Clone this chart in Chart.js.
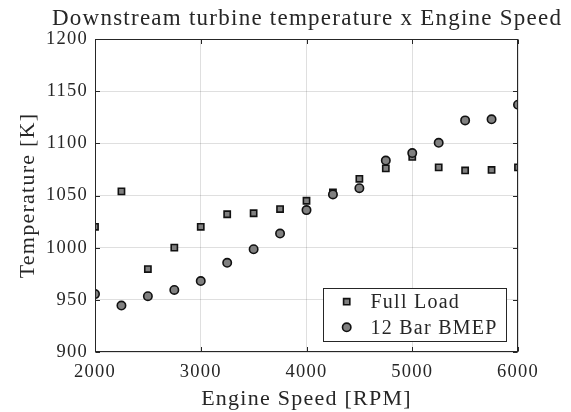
<!DOCTYPE html>
<html>
<head>
<meta charset="utf-8">
<script src="https://cdn.jsdelivr.net/npm/chart.js@4/dist/chart.umd.min.js"></script>
<style>
    html, body { margin: 0; padding: 0; background: #fff; }
    #wrap { width: 571px; height: 412px; position: relative; }
</style>
</head>
<body>
<div id="wrap"><canvas id="turbineChart"></canvas></div>
<script>
const speeds = [2000, 2250, 2500, 2750, 3000, 3250, 3500, 3750, 4000, 4250, 4500, 4750, 5000, 5250, 5500, 5750, 6000];
const fullLoad = [1020, 1054, 979.5, 1000, 1020, 1032, 1033, 1037, 1045, 1053, 1066, 1076, 1087, 1077, 1074, 1074.5, 1077];
const bmep12 = [955.5, 944.5, 953.5, 959.5, 968, 985.5, 998.5, 1013.5, 1036, 1051, 1057, 1083.5, 1090.7, 1100.5, 1122, 1123, 1137];
const xTicks = [2000, 3000, 4000, 5000, 6000];
const yTicks = [900, 950, 1000, 1050, 1100, 1150, 1200];
const seriesNames = ['Full Load', '12 Bar BMEP'];
const chartTitle = 'Downstream turbine temperature x Engine Speed';

const serif = "'Liberation Serif', 'Times New Roman', serif";
const ink = '#262626';
const gridColor = 'rgba(38, 38, 38, 0.15)';
const markerFill = '#808080';
// Liberation Serif is narrower than the LaTeX font, so open it up a little
const spacing = '1.25px';

const toPoints = (ys) => speeds.map((x, i) => ({ x, y: ys[i] }));

const wideText = {
    id: 'wideText',
    beforeLayout(chart) { chart.ctx.letterSpacing = spacing; },
    beforeDraw(chart) { chart.ctx.letterSpacing = spacing; },
};

// title centred over the axes, box outline, inward ticks and the legend (MATLAB look)
const axesBox = {
    id: 'axesBox',
    afterDraw(chart) {
        const { ctx, chartArea: a, scales } = chart;
        const L = Math.round(a.left) + 0.5, R = Math.round(a.right) - 0.5;
        const T = Math.round(a.top) + 0.5, B = Math.round(a.bottom) - 0.5;
        ctx.save();

        ctx.fillStyle = ink;
        ctx.font = '23px ' + serif;
        ctx.textAlign = 'center';
        ctx.textBaseline = 'middle';
        ctx.fillText(chartTitle, (a.left + a.right) / 2 + 0.6, 18.8);

        ctx.strokeStyle = ink;
        ctx.lineWidth = 1;
        ctx.strokeRect(L, T, R - L, B - T);
        ctx.beginPath();
        xTicks.forEach((v) => {
            const px = Math.round(scales.x.getPixelForValue(v)) + 0.5;
            ctx.moveTo(px, B); ctx.lineTo(px, B - 4.5);
            ctx.moveTo(px, T); ctx.lineTo(px, T + 4.5);
        });
        yTicks.forEach((v) => {
            const py = Math.round(scales.y.getPixelForValue(v)) + 0.5;
            ctx.moveTo(L, py); ctx.lineTo(L + 4.5, py);
            ctx.moveTo(R, py); ctx.lineTo(R - 4.5, py);
        });
        ctx.stroke();

        // legend
        const lx = 323.5, ly = 288.5, lw = 183, lh = 53;
        ctx.fillStyle = '#fff';
        ctx.fillRect(lx, ly, lw, lh);
        ctx.strokeRect(lx, ly, lw, lh);
        ctx.font = '20px ' + serif;
        ctx.textAlign = 'left';
        const rows = [301.7, 327.3];
        chart.data.datasets.forEach((ds, i) => {
            const cy = rows[i];
            ctx.fillStyle = ds.backgroundColor;
            ctx.strokeStyle = ds.borderColor;
            ctx.lineWidth = ds.borderWidth;
            ctx.beginPath();
            if (ds.pointStyle === 'rect') {
                const s = Math.SQRT1_2 * ds.pointRadius;
                ctx.rect(346.7 - s, cy - s, 2 * s, 2 * s);
            } else {
                ctx.arc(346.7, cy, ds.pointRadius, 0, Math.PI * 2);
            }
            ctx.fill();
            ctx.stroke();
            ctx.fillStyle = ink;
            ctx.fillText(seriesNames[i], 370.5, cy + 1);
        });
        ctx.restore();
    },
};

new Chart(document.getElementById('turbineChart'), {
    type: 'scatter',
    data: {
        datasets: [
            {
                label: seriesNames[0],
                data: toPoints(fullLoad),
                pointStyle: 'rect',
                pointRadius: 4.4,
                pointHoverRadius: 4.4,
                backgroundColor: markerFill,
                borderColor: '#111',
                borderWidth: 1.6,
                order: 2,
            },
            {
                label: seriesNames[1],
                data: toPoints(bmep12),
                pointStyle: 'circle',
                pointRadius: 4.2,
                pointHoverRadius: 4.2,
                backgroundColor: markerFill,
                borderColor: '#111',
                borderWidth: 1.6,
                order: 1,
            },
        ],
    },
    options: {
        responsive: true,
        maintainAspectRatio: false,
        animation: false,
        events: [],
        layout: { padding: { left: 0, right: 53, top: 39, bottom: 0 } },
        plugins: {
            legend: { display: false },
            tooltip: { enabled: false },
            title: { display: false },
        },
        scales: {
            x: {
                type: 'linear',
                min: 2000,
                max: 6000,
                afterFit(scale) { scale.height = 60; },
                afterBuildTicks(scale) { scale.ticks = xTicks.map((value) => ({ value })); },
                ticks: {
                    color: ink,
                    font: { family: serif, size: 18.5 },
                    padding: 9,
                    maxRotation: 0,
                    callback: (v) => String(v),
                },
                grid: { color: gridColor, drawTicks: false, lineWidth: 1 },
                border: { display: false },
                title: {
                    display: true,
                    text: 'Engine Speed [RPM]',
                    color: ink,
                    font: { family: serif, size: 22 },
                    padding: { top: 0, bottom: 0 },
                },
            },
            y: {
                type: 'linear',
                min: 900,
                max: 1200,
                afterFit(scale) { scale.width = 95; },
                afterBuildTicks(scale) { scale.ticks = yTicks.map((value) => ({ value })); },
                ticks: {
                    color: ink,
                    font: { family: serif, size: 18.5 },
                    padding: 7,
                    callback: (v) => String(v),
                },
                grid: { color: gridColor, drawTicks: false, lineWidth: 1 },
                border: { display: false },
                title: {
                    display: true,
                    text: 'Temperature [K]',
                    color: ink,
                    font: { family: serif, size: 22 },
                    padding: { top: 15, bottom: 0 },
                },
            },
        },
    },
    plugins: [wideText, axesBox],
});
</script>
</body>
</html>
